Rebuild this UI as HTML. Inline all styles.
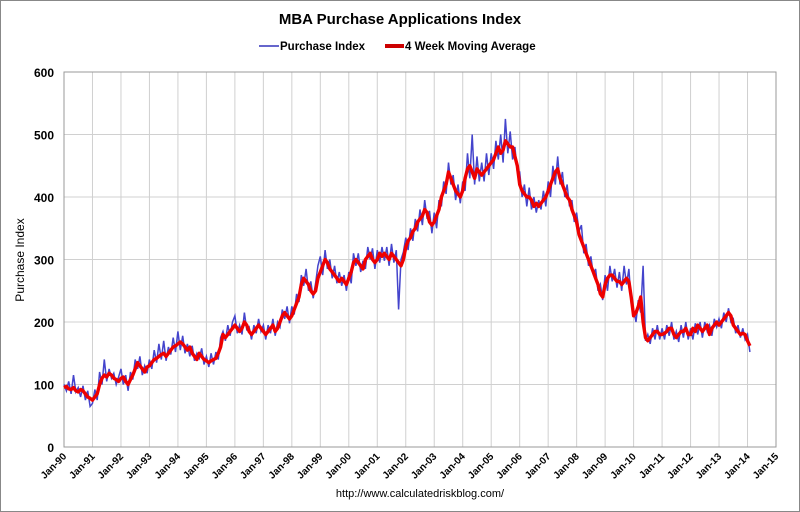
<!DOCTYPE html>
<html><head><meta charset="utf-8"><style>
body{margin:0;background:#fff;}
svg{display:block;font-family:"Liberation Sans",sans-serif;}
</style></head><body>
<svg id="c" width="800" height="512" viewBox="0 0 800 512">
<rect x="0.5" y="0.5" width="799" height="511" fill="#fff" stroke="#888"/>
<text x="400" y="24" text-anchor="middle" font-size="15" font-weight="bold">MBA Purchase Applications Index</text>
<g>
<g><line x1="259" y1="46" x2="279" y2="46" stroke="#6666cc" stroke-width="2"/><text x="280" y="50" font-size="11.5" font-weight="bold">Purchase Index</text></g>
<g><line x1="385" y1="46" x2="404" y2="46" stroke="#cc0000" stroke-width="4"/><text x="405" y="50" font-size="11.5" font-weight="bold">4 Week Moving Average</text></g>
</g>
<text transform="translate(24,260) rotate(-90)" text-anchor="middle" font-size="12">Purchase Index</text>
<g id="grid"></g><g id="axes"></g><g id="series"></g>
<text x="420" y="497" text-anchor="middle" font-size="11">http://www.calculatedriskblog.com/</text>
</svg>
<script>
const yTicks=[0,100,200,300,400,500,600];
const xYears=[90,91,92,93,94,95,96,97,98,99,0,1,2,3,4,5,6,7,8,9,10,11,12,13,14,15];
const maValues=[
95,97,93,92,95,90,88,92,90,85,80,78,
75,80,85,100,110,115,112,118,115,110,108,105,
110,112,105,100,108,115,125,135,130,125,120,128,
130,135,140,142,145,148,150,145,150,155,160,162,
165,168,165,160,155,160,150,145,140,150,145,140,
138,135,138,140,142,150,160,180,175,180,185,190,
195,190,185,190,200,195,185,180,185,190,195,190,
185,180,185,190,195,185,190,200,210,215,210,205,
210,220,230,240,260,270,265,260,250,245,250,270,
280,290,300,295,285,280,275,270,265,270,265,260,
270,280,295,300,295,290,285,300,305,310,300,295,
300,310,305,310,305,300,310,305,300,295,290,300,
320,330,335,345,350,360,365,370,380,375,360,355,
360,370,380,400,410,420,440,430,420,410,405,400,
410,430,445,450,440,430,445,440,435,440,445,450,
455,460,470,480,470,475,490,485,480,480,465,450,
420,410,405,400,400,395,385,390,385,390,395,400,
410,420,430,440,445,430,420,410,400,395,380,370,
360,340,330,320,310,300,290,280,270,260,245,240,
260,270,275,275,270,265,265,260,265,270,265,240,
210,215,225,240,200,175,170,175,180,185,185,180,
180,182,185,190,190,180,175,180,185,185,190,180,
180,190,185,195,190,185,190,195,180,190,195,200,
195,200,205,210,215,210,195,190,185,180,182,180,
170,162];
const indexValues=[
100,90,105,85,115,88,95,80,98,75,90,65,
70,92,75,120,100,140,105,125,110,118,100,112,
125,100,115,90,120,108,140,125,145,115,130,118,
140,125,155,135,165,140,170,138,160,148,175,152,
185,155,178,150,165,145,162,138,150,142,158,132,
145,128,150,132,152,140,175,185,170,195,178,200,
210,182,195,180,215,188,192,172,195,182,205,185,
195,172,195,182,205,178,200,192,220,205,225,198,
225,212,245,232,275,258,285,250,265,238,262,290,
305,275,315,285,300,270,290,262,280,258,275,250,
280,262,310,290,310,280,298,285,320,300,318,285,
315,295,320,298,320,290,325,295,315,220,300,312,
335,315,350,330,365,345,380,355,395,365,378,342,
375,350,395,385,425,405,455,420,435,395,420,390,
425,410,470,430,500,420,465,425,455,425,470,435,
470,445,490,460,500,455,525,470,505,460,480,440,
440,400,420,385,415,380,400,375,395,380,410,385,
425,400,450,420,465,420,440,400,420,385,395,360,
375,345,355,310,325,290,305,275,285,250,260,235,
275,250,290,265,285,255,280,250,290,260,285,230,
220,200,235,215,290,170,180,165,190,172,195,172,
190,172,195,178,200,172,185,168,195,175,200,172,
190,172,198,180,200,175,200,185,195,178,205,192,
205,190,215,200,222,200,205,182,195,175,190,172,
180,152];
const L=64,R=776,T=72,B=447,NS="http://www.w3.org/2000/svg";
const xs=m=>L+(R-L)*m/(25*12);
const ys=v=>B-(B-T)*v/600;
function mk(t,a,p){const e=document.createElementNS(NS,t);for(const k in a)e.setAttribute(k,a[k]);p.appendChild(e);return e;}
const grid=document.getElementById('grid'),axes=document.getElementById('axes'),ser=document.getElementById('series');
xYears.forEach((yr,i)=>{const x=xs(i*12);
const g=mk('line',{x1:x,x2:x,y1:T,y2:B,stroke:'#d0d0d0','stroke-width':1},grid);


const t=mk('text',{x:x+3,y:B+10,'font-size':10,'font-weight':'bold','text-anchor':'end',transform:`rotate(-45 ${x+3} ${B+10})`},axes);
t.textContent='Jan-'+String(yr).padStart(2,'0');

});
yTicks.forEach(v=>{const y=ys(v);
const g=mk('line',{x1:L,x2:R,y1:y,y2:y,stroke:v===0?'#888':'#d0d0d0','stroke-width':1},grid);


const t=mk('text',{x:L-10,y:y+5,'font-size':12,'font-weight':'bold','text-anchor':'end'},axes);
t.textContent=v;

});
const bd=mk('rect',{x:L,y:T,width:R-L,height:B-T,fill:'none',stroke:'#999'},grid);


const p1=mk('path',{d:indexValues.map((v,i)=>(i?'L':'M')+xs(i).toFixed(1)+' '+ys(v).toFixed(1)).join(''),fill:'none',stroke:'#4444cc','stroke-width':1.5},ser);


const p2=mk('path',{d:maValues.map((v,i)=>(i?'L':'M')+xs(i).toFixed(1)+' '+ys(v).toFixed(1)).join(''),fill:'none',stroke:'#ee0000','stroke-width':3.4,'stroke-linejoin':'round'},ser);


</script>
</body></html>
